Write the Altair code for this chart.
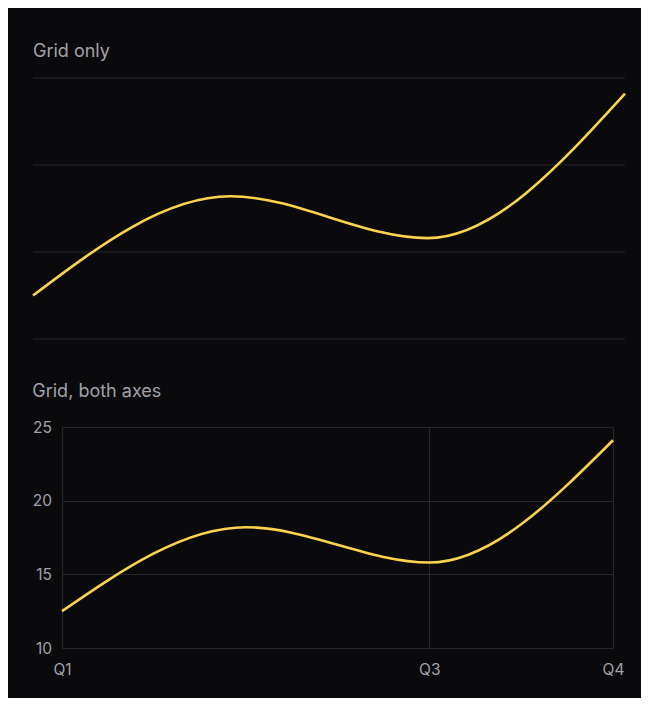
import altair as alt
import pandas as pd

quarters = ["Q1", "Q2", "Q3", "Q4"]
values = [12.5, 18.2, 15.8, 24.1]
y_ticks = [10, 15, 20, 25]
x_label_values = ["Q1", "Q3", "Q4"]

df = pd.DataFrame({"quarter": quarters, "value": values})
grid_df = pd.DataFrame({"tick": y_ticks})

BG = "#0a0a0c"
GRID = "#27272a"
TEXT = "#a1a1aa"
LINE = "#fcd34d"
FONT = "Inter"

# The top panel extends further left than the bottom one (no axis labels).
LEFT_SHIFT = 29
BOTTOM_W = 551
TOP_W = 563

line_mark = dict(interpolate="monotone", color=LINE, strokeWidth=2.6)

y_scale = alt.Scale(domain=[10, 25], nice=False, zero=False)

top_line = alt.Chart(df).mark_line(**line_mark).encode(
    x=alt.X("quarter:O", sort=quarters,
            scale=alt.Scale(type="point", padding=0, range=[-LEFT_SHIFT, TOP_W]), axis=None),
    y=alt.Y("value:Q", scale=y_scale, axis=None),
)
top_grid = alt.Chart(grid_df).mark_rule(color=GRID, strokeWidth=1).encode(
    y=alt.Y("tick:Q", scale=y_scale, axis=None),
    x=alt.value(-LEFT_SHIFT),
    x2=alt.value(TOP_W),
)
top = (
    alt.layer(top_grid, top_line)
    .properties(width=TOP_W, height=261,
                title=alt.Title("Grid only", anchor="start", fontSize=18, font=FONT,
                                color=TEXT, fontWeight="normal", offset=17,
                                frame="group", dx=-LEFT_SHIFT))
)

bottom = (
    alt.Chart(df, title=alt.Title("Grid, both axes", anchor="start", fontSize=18,
                                  font=FONT, color=TEXT, fontWeight="normal", offset=19))
    .mark_line(**line_mark)
    .encode(
        x=alt.X("quarter:O", sort=quarters, scale=alt.Scale(type="point", padding=0),
                axis=alt.Axis(values=x_label_values, labelAngle=0, ticks=False, domain=False,
                              grid=True, gridColor=GRID, labelColor=TEXT, labelFont=FONT,
                              labelFontSize=15.5, labelPadding=14, title=None)),
        y=alt.Y("value:Q", scale=y_scale,
                axis=alt.Axis(values=y_ticks, ticks=False, domain=False, grid=True,
                              gridColor=GRID, labelColor=TEXT, labelFont=FONT,
                              labelFontSize=15.5, labelPadding=10.5, title=None,
                              minExtent=0)),
    )
    .properties(width=BOTTOM_W, height=221)
)

chart = (
    alt.concat(top, bottom, columns=1, spacing=43)
    .properties(background=BG,
                padding={"left": 19, "top": 34, "right": 10, "bottom": 20})
    .configure_view(stroke=None)
)

chart.save("out.html", embed_options={"renderer": "svg", "actions": False})
